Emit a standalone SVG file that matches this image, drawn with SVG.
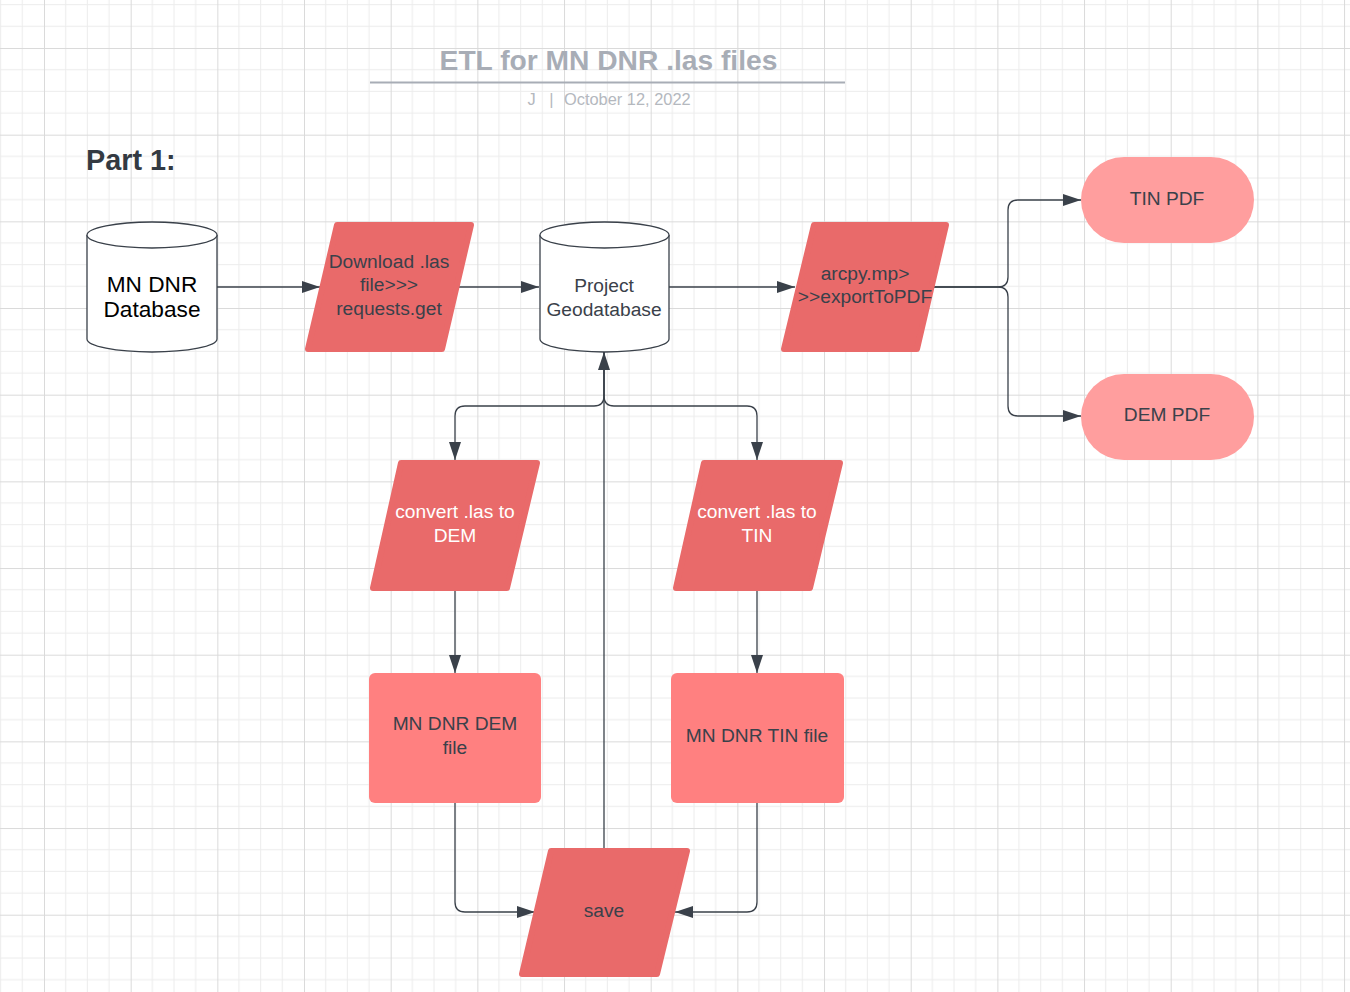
<svg xmlns="http://www.w3.org/2000/svg" width="1350" height="992" viewBox="0 0 1350 992">
<style>
.t{font-family:"Liberation Sans",Arial,sans-serif;font-size:19.2px;fill:#3a414a;text-anchor:middle}
.w{fill:#ffffff}
.para{fill:#E96A6A;stroke:#E96A6A;stroke-width:6;stroke-linejoin:round}
.rect{fill:#FF8080}
.term{fill:#FF9E9E}
.cyl{fill:#ffffff;stroke:#3a414a;stroke-width:1.3}
.c{fill:none;stroke:#3a414a;stroke-width:1.3}
</style>
<defs>
<pattern id="grid" x="44" y="48" width="86.67" height="86.67" patternUnits="userSpaceOnUse">
<path d="M21.67,0V86.67M43.33,0V86.67M65,0V86.67M0,21.67H86.67M0,43.33H86.67M0,65H86.67" stroke="#ececec" stroke-width="1" fill="none"/>
<path d="M0.5,0V86.67M0,0.5H86.67" stroke="#dadada" stroke-width="1" fill="none"/>
</pattern>
<marker id="ah" markerWidth="18" markerHeight="12" refX="18" refY="6" orient="auto" markerUnits="userSpaceOnUse">
<path d="M0,0 L18,6 L0,12 Z" fill="#3a414a"/>
</marker>
</defs>
<rect width="1350" height="992" fill="#ffffff"/>
<rect width="1350" height="992" fill="url(#grid)"/>

<g id="title">
<text x="608.5" y="70" style="font-family:'Liberation Sans',Arial,sans-serif;font-size:28.2px;font-weight:bold;fill:#a8adb6" text-anchor="middle">ETL for MN DNR .las files</text>
<line x1="370" y1="82.5" x2="845" y2="82.5" stroke="#a8adb6" stroke-width="2"/>
<text x="531.5" y="105" style="font-family:'Liberation Sans',Arial,sans-serif;font-size:16.4px;fill:#b4b8be" text-anchor="middle">J</text>
<text x="551.5" y="105" style="font-family:'Liberation Sans',Arial,sans-serif;font-size:16.4px;fill:#b4b8be" text-anchor="middle">|</text>
<text x="564" y="105" style="font-family:'Liberation Sans',Arial,sans-serif;font-size:16.4px;fill:#b4b8be">October 12, 2022</text>
</g>
<text id="part1" x="86" y="170" style="font-family:'Liberation Sans',Arial,sans-serif;font-size:28.8px;font-weight:bold;fill:#333a42">Part 1:</text>

<g id="connectors">
<path class="c" d="M217,287 H320" marker-end="url(#ah)"/>
<path class="c" d="M459,287 H539" marker-end="url(#ah)"/>
<path class="c" d="M669,287 H795" marker-end="url(#ah)"/>
<path class="c" d="M934,287 H998 Q1008,287 1008,277 V210 Q1008,200 1018,200 H1081" marker-end="url(#ah)"/>
<path class="c" d="M934,287 H998 Q1008,287 1008,297 V406 Q1008,416 1018,416 H1081" marker-end="url(#ah)"/>
<path class="c" d="M604,352 V396 Q604,406 594,406 H465 Q455,406 455,416 V460" marker-end="url(#ah)"/>
<path class="c" d="M604,352 V396 Q604,406 614,406 H747 Q757,406 757,416 V460" marker-end="url(#ah)"/>
<path class="c" d="M455,591 V673" marker-end="url(#ah)"/>
<path class="c" d="M757,591 V673" marker-end="url(#ah)"/>
<path class="c" d="M455,803 V902 Q455,912 465,912 H535" marker-end="url(#ah)"/>
<path class="c" d="M757,803 V902 Q757,912 747,912 H675" marker-end="url(#ah)"/>
<path class="c" d="M604,848 V352" marker-end="url(#ah)"/>
</g>

<g id="mn-dnr-database">
<path class="cyl" d="M87,235 A65,13 0 0 1 217,235 V339 A65,13 0 0 1 87,339 Z"/>
<path class="cyl" d="M87,235 A65,13 0 0 0 217,235"/>
<text class="t" x="152" y="292" style="font-size:22.67px;fill:#000000">MN DNR</text>
<text class="t" x="152" y="317" style="font-size:22.67px;fill:#000000">Database</text>
</g>

<g id="download">
<polygon class="para" points="337,225 471,225 442,349 308,349"/>
<text class="t" x="389" y="268">Download .las</text>
<text class="t" x="389" y="291">file&gt;&gt;&gt;</text>
<text class="t" x="389" y="315">requests.get</text>
</g>

<g id="project-geodatabase">
<path class="cyl" d="M540,235 A64.5,13 0 0 1 669,235 V339 A64.5,13 0 0 1 540,339 Z"/>
<path class="cyl" d="M540,235 A64.5,13 0 0 0 669,235"/>
<text class="t" x="604" y="292">Project</text>
<text class="t" x="604" y="316">Geodatabase</text>
</g>

<g id="arcpy">
<polygon class="para" points="814,225 946,225 917,349 784,349"/>
<text class="t" x="865" y="280">arcpy.mp&gt;</text>
<text class="t" x="865" y="303">&gt;&gt;exportToPDF</text>
</g>

<g id="tin-pdf">
<rect class="term" x="1081" y="157" width="173" height="86" rx="43" ry="43"/>
<text class="t" x="1167" y="205">TIN PDF</text>
</g>

<g id="dem-pdf">
<rect class="term" x="1081" y="374" width="173" height="86" rx="43" ry="43"/>
<text class="t" x="1167" y="421">DEM PDF</text>
</g>

<g id="convert-dem">
<polygon class="para" points="401,463 537,463 507,588 373,588"/>
<text class="t w" x="455" y="518">convert .las to</text>
<text class="t w" x="455" y="542">DEM</text>
</g>

<g id="convert-tin">
<polygon class="para" points="704,463 840,463 810,588 676,588"/>
<text class="t w" x="757" y="518">convert .las to</text>
<text class="t w" x="757" y="542">TIN</text>
</g>

<g id="dem-file">
<rect class="rect" x="369" y="673" width="172" height="130" rx="6" ry="6"/>
<text class="t" x="455" y="730">MN DNR DEM</text>
<text class="t" x="455" y="754">file</text>
</g>

<g id="tin-file">
<rect class="rect" x="671" y="673" width="173" height="130" rx="6" ry="6"/>
<text class="t" x="757" y="742">MN DNR TIN file</text>
</g>

<g id="save">
<polygon class="para" points="551,851 687,851 657,974 522,974"/>
<text class="t" x="604" y="917">save</text>
</g>
</svg>
